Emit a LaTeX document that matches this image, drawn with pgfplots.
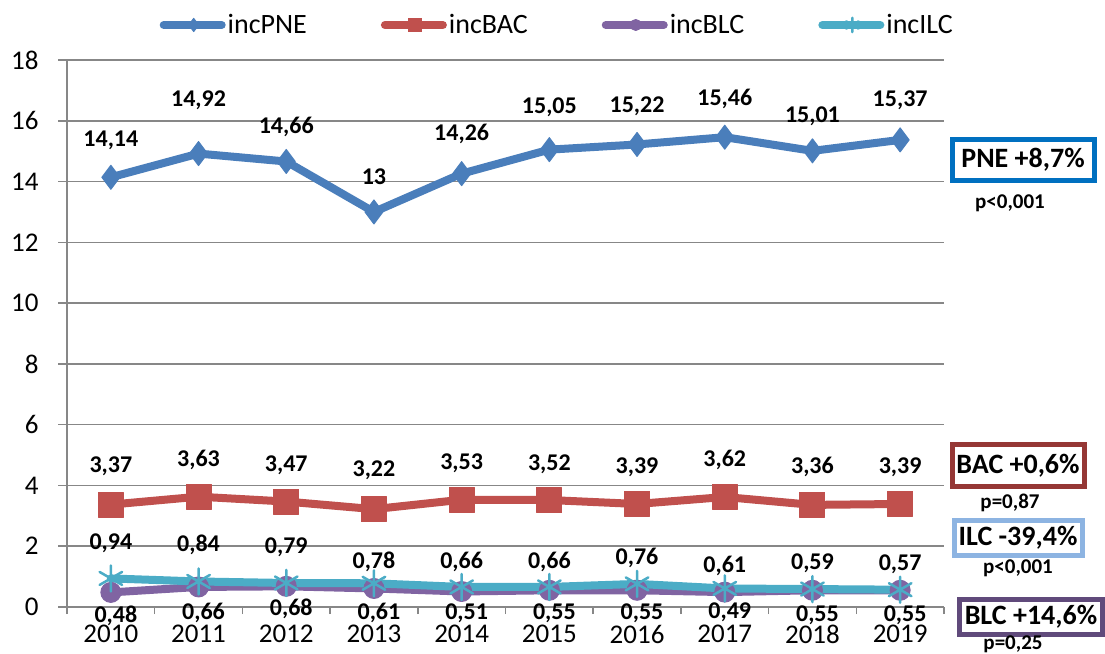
\documentclass[border=0pt]{standalone}
\usepackage{pgfplots}
\pgfplotsset{compat=1.18}
\usepackage{pgfplotstable}
\usepackage{fontspec}
\setmainfont{Carlito}

\definecolor{cPNE}{HTML}{4A7EBB}
\definecolor{cBAC}{HTML}{C0504D}
\definecolor{cBLC}{HTML}{8064A2}
\definecolor{cILC}{HTML}{4BACC6}
\definecolor{gridc}{HTML}{878787}
\definecolor{bPNE}{HTML}{0070C0}
\definecolor{bBAC}{HTML}{953735}
\definecolor{bILC}{HTML}{8DB4E2}
\definecolor{bBLC}{HTML}{604A7B}

\pgfplotstableread{
x y dy
0 14.14 37
1 14.92 53
2 14.66 35
3 13 35
4 14.26 40
5 15.05 42
6 15.22 38
7 15.46 38
8 15.01 35
9 15.37 40
}\tPNE
\pgfplotstableread{
x y dy
0 3.37 38
1 3.63 37
2 3.47 36
3 3.22 39
4 3.53 36
5 3.52 36
6 3.39 37
7 3.62 37
8 3.36 38
9 3.39 37
}\tBAC
\pgfplotstableread{
x y dy
0 0.48 -23
1 0.66 -26
2 0.68 -23
3 0.61 -24
4 0.51 -22
5 0.55 -23
6 0.55 -23
7 0.49 -20
8 0.55 -25
9 0.55 -25
}\tBLC
\pgfplotstableread{
x y dy
0 0.94 35
1 0.84 37
2 0.79 36
3 0.78 21
4 0.66 25
5 0.66 25
6 0.76 26
7 0.61 23
8 0.59 26
9 0.57 25
}\tILC

\begin{document}
\begin{tikzpicture}
\path[use as bounding box] (0,0) rectangle (1105pt,653pt);
\begin{axis}[
  at={(67pt,46pt)}, anchor=south west,
  scale only axis, width=877pt, height=547pt,
  xmin=-0.5, xmax=9.5, ymin=0, ymax=18,
  ytick={0,2,...,18},
  xtick={0,...,9},
  xticklabels={2010,2011,2012,2013,2014,2015,2016,2017,2018,2019},
  minor xtick={-0.5,0.5,...,9.5},
  axis lines=left,
  axis line style={-, draw=gridc, line width=1.5pt},
  ymajorgrids,
  grid style={draw=gridc, line width=1.5pt},
  tick align=outside,
  major tick length=9pt, minor tick length=7pt,
  major x tick style={draw=none},
  minor x tick style={draw=gridc, line width=1.5pt},
  ytick style={draw=gridc, line width=1.5pt},
  tick label style={font=\fontsize{27}{30}\selectfont, black},
  yticklabel style={xshift=-16pt},
  xticklabel style={yshift=-8pt, inner ysep=1pt},
  /pgf/number format/use comma,
  /pgf/number format/assume math mode=true,
  clip=false,
  legend columns=4,
  legend style={at={(0.559,1.064)}, anchor=center, draw=none, fill=none,
    font=\fontsize{28}{32}\selectfont,
    nodes={inner xsep=2pt},
    /tikz/every even column/.append style={column sep=72pt}},
  legend image code/.code={
    \draw[mark repeat=2,mark phase=2,#1, every mark/.append style={scale=0.55}] plot coordinates {(0pt,0pt) (30pt,0pt) (58pt,0pt)};
  },
  every node near coord/.append style={font=\bfseries\fontsize{24}{27}\selectfont, black, anchor=center},
  every axis plot/.append style={line width=8pt, line cap=round, line join=round},
]
\addplot[color=cPNE, mark=diamond*, mark size=12pt, mark options={solid, line width=1pt, fill=cPNE},
  nodes near coords, visualization depends on={\thisrow{dy} \as \dy},
  every node near coord/.append style={yshift=\dy}] table[x=x,y=y] {\tPNE};
\addlegendentry{incPNE}
\addplot[color=cBAC, mark=square*, mark size=12.5pt, mark options={solid, line width=1pt, fill=cBAC},
  nodes near coords, visualization depends on={\thisrow{dy} \as \dy},
  every node near coord/.append style={yshift=\dy}] table[x=x,y=y] {\tBAC};
\addlegendentry{incBAC}
\addplot[color=cBLC, mark=*, mark size=10pt, mark options={solid, line width=1pt, fill=cBLC},
  nodes near coords, visualization depends on={\thisrow{dy} \as \dy},
  every node near coord/.append style={yshift=\dy, xshift=5pt}] table[x=x,y=y] {\tBLC};
\addlegendentry{incBLC}
\addplot[color=cILC, mark=asterisk, mark size=13pt, mark options={solid, line width=2.5pt},
  nodes near coords, visualization depends on={\thisrow{dy} \as \dy},
  every node near coord/.append style={yshift=\dy}] table[x=x,y=y] {\tILC};
\addlegendentry{incILC}
\end{axis}
% annotation boxes
\node[draw=bPNE, line width=5pt, fill=white, minimum width=142pt, minimum height=41pt, inner sep=0pt,
  font=\bfseries\fontsize{28}{30}\selectfont] at (1023pt,493pt) {PNE +8,7\%};
\node[font=\bfseries\fontsize{21}{24}\selectfont] at (1010pt,450pt) {p<0,001};
\node[draw=bBAC, line width=5pt, fill=white, minimum width=132pt, minimum height=42pt, inner sep=0pt,
  font=\bfseries\fontsize{28}{30}\selectfont] at (1018pt,187pt) {BAC +0,6\%};
\node[font=\bfseries\fontsize{21}{24}\selectfont] at (1010pt,150pt) {p=0,87};
\node[draw=bILC, line width=5pt, fill=white, minimum width=128pt, minimum height=35pt, inner sep=0pt,
  font=\bfseries\fontsize{28}{30}\selectfont] at (1018pt,115pt) {ILC -39,4\%};
\node[font=\bfseries\fontsize{21}{24}\selectfont] at (1018pt,85pt) {p<0,001};
\node[draw=bBLC, line width=5pt, fill=white, minimum width=143pt, minimum height=34pt, inner sep=0pt,
  font=\bfseries\fontsize{28}{30}\selectfont] at (1031pt,36pt) {BLC +14,6\%};
\node[font=\bfseries\fontsize{21}{24}\selectfont] at (1013pt,9pt) {p=0,25};
\end{tikzpicture}
\end{document}
